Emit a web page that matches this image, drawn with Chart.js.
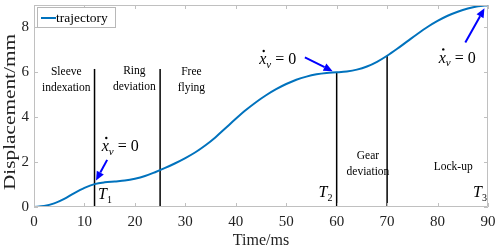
<!DOCTYPE html>
<html>
<head>
<meta charset="utf-8">
<script src="https://cdn.jsdelivr.net/npm/chart.js@4.4.1/dist/chart.umd.min.js"></script>
<style>
  html, body { margin: 0; padding: 0; background: #fff; }
  #wrap { width: 500px; height: 250px; }
</style>
</head>
<body>
<div id="wrap"><canvas id="myChart"></canvas></div>
<script>
const timeMs = [0, 2, 4, 6, 8, 10, 12, 14, 16, 18, 20, 22, 24, 26, 28, 30, 32, 34, 36, 38, 40, 42, 44, 46,
  48, 50, 52, 54, 56, 58, 60, 62, 64, 66, 68, 70, 72, 74, 76, 78, 80, 82, 84, 86, 88, 90];
const displacement = [0, 0.04, 0.16, 0.36, 0.62, 0.85, 1.02, 1.1, 1.14, 1.18, 1.26, 1.38, 1.55, 1.74, 1.95,
  2.18, 2.44, 2.75, 3.11, 3.52, 3.93, 4.32, 4.67, 4.98, 5.25, 5.48, 5.67, 5.81, 5.91, 5.97, 6.0, 6.04,
  6.12, 6.26, 6.47, 6.74, 7.05, 7.38, 7.71, 8.02, 8.29, 8.52, 8.7, 8.84, 8.94, 8.99];

// phase boundaries: time and height of the vertical line
const boundaryTimes = [12, 25, 60, 70];
const boundaryTops = [6.15, 6.15, 6.0, 6.74];

const xTicks = [0, 10, 20, 30, 40, 50, 60, 70, 80, 90];
const yTicks = [0, 2, 4, 6, 8];

const phaseLabels = [
  { lines: ['Sleeve', 'indexation'], x: 6.4, y: 5.66 },
  { lines: ['Ring', 'deviation'], x: 19.9, y: 5.72 },
  { lines: ['Free', 'flying'], x: 31.2, y: 5.66 },
  { lines: ['Gear', 'deviation'], x: 66.2, y: 1.92 },
  { lines: ['Lock-up'], x: 83.1, y: 1.78 }
];
const tLabels = [{ sub: '1', x: 13.9, y: 0.53 }, { sub: '2', x: 57.6, y: 0.62 }, { sub: '3', x: 88.2, y: 0.62 }];
const velocityNotes = [
  { tx: 17.1, ty: 2.67, from: [14.5, 2.1], to: [12.3, 1.18] },
  { tx: 48.3, ty: 6.55, from: [53.7, 6.67], to: [59.2, 6.05] },
  { tx: 83.9, ty: 6.62, from: [85.5, 7.33], to: [89.3, 8.85] }
];

const serif = '"Liberation Serif", "Times New Roman", serif';

const datasets = [{
  label: 'trajectory',
  data: timeMs.map((t, i) => ({ x: t, y: displacement[i] })),
  borderColor: '#0072BD',
  borderWidth: 2,
  pointRadius: 0,
  showLine: true,
  cubicInterpolationMode: 'monotone'
}];
boundaryTimes.forEach((t, i) => {
  datasets.push({
    label: 'b' + i,
    data: [{ x: t, y: 0 }, { x: t, y: boundaryTops[i] }],
    borderColor: '#000',
    borderWidth: 1.5,
    pointRadius: 0,
    showLine: true
  });
});

function arrow(ctx, x1, y1, x2, y2) {
  const a = Math.atan2(y2 - y1, x2 - x1);
  const hl = 9, hw = 4;
  const bx = x2 - hl * Math.cos(a), by = y2 - hl * Math.sin(a);
  ctx.strokeStyle = '#0000FF';
  ctx.fillStyle = '#0000FF';
  ctx.lineWidth = 2;
  ctx.beginPath();
  ctx.moveTo(x1, y1);
  ctx.lineTo(bx, by);
  ctx.stroke();
  ctx.beginPath();
  ctx.moveTo(x2, y2);
  ctx.lineTo(bx + hw * Math.sin(a), by - hw * Math.cos(a));
  ctx.lineTo(bx - hw * Math.sin(a), by + hw * Math.cos(a));
  ctx.closePath();
  ctx.fill();
}

// x-dot sub v = 0, centred on (cx, cy)
function velText(ctx, cx, cy) {
  ctx.fillStyle = '#000';
  ctx.textBaseline = 'middle';
  ctx.textAlign = 'left';
  ctx.font = 'italic 16px ' + serif;
  const wx = ctx.measureText('x').width;
  ctx.font = 'italic 11px ' + serif;
  const wv = ctx.measureText('v').width;
  ctx.font = '16px ' + serif;
  const rest = ' = 0';
  const wr = ctx.measureText(rest).width;
  let x = cx - (wx + wv + wr) / 2;
  ctx.font = 'italic 16px ' + serif;
  ctx.fillText('x', x, cy);
  ctx.beginPath();
  ctx.arc(x + wx / 2 + 1, cy - 9, 1.2, 0, Math.PI * 2);
  ctx.fill();
  x += wx;
  ctx.font = 'italic 11px ' + serif;
  ctx.fillText('v', x, cy + 5);
  x += wv;
  ctx.font = '16px ' + serif;
  ctx.fillText(rest, x, cy);
}

const decor = {
  id: 'decor',
  afterDatasetsDraw(chart) {
    const ctx = chart.ctx;
    const xs = chart.scales.x, ys = chart.scales.y;
    const a = chart.chartArea;
    ctx.save();
    // box with inward ticks
    ctx.strokeStyle = '#c0c0c0';
    ctx.lineWidth = 1;
    ctx.beginPath();
    ctx.rect(a.left + 0.5, a.top + 0.5, a.right - a.left - 1, a.bottom - a.top - 1);
    xTicks.forEach(v => {
      const p = Math.round(xs.getPixelForValue(v)) + 0.5;
      ctx.moveTo(p, a.bottom); ctx.lineTo(p, a.bottom - 4);
      ctx.moveTo(p, a.top); ctx.lineTo(p, a.top + 4);
    });
    yTicks.forEach(v => {
      const p = Math.round(ys.getPixelForValue(v)) + 0.5;
      ctx.moveTo(a.left, p); ctx.lineTo(a.left + 4, p);
      ctx.moveTo(a.right, p); ctx.lineTo(a.right - 4, p);
    });
    ctx.stroke();

    // y title, stretched along its length like the original export
    ctx.save();
    ctx.translate(11, (a.top + a.bottom) / 2 + 6);
    ctx.rotate(-Math.PI / 2);
    ctx.scale(1.33, 1);
    ctx.fillStyle = '#222';
    ctx.font = '16px ' + serif;
    ctx.textAlign = 'center';
    ctx.textBaseline = 'middle';
    ctx.fillText('Displacement/mm', 0, 0);
    ctx.restore();

    // legend box
    const lx = a.left + 3, ly = a.top + 2;
    ctx.fillStyle = '#fff';
    ctx.fillRect(lx, ly, 78, 20);
    ctx.strokeStyle = '#b8b8b8';
    ctx.strokeRect(lx + 0.5, ly + 0.5, 78, 20);
    ctx.strokeStyle = '#0072BD';
    ctx.lineWidth = 2;
    ctx.beginPath();
    ctx.moveTo(lx + 4, ly + 11);
    ctx.lineTo(lx + 19, ly + 11);
    ctx.stroke();
    ctx.fillStyle = '#000';
    ctx.font = '13.5px ' + serif;
    ctx.textAlign = 'left';
    ctx.textBaseline = 'middle';
    ctx.fillText('trajectory', lx + 19, ly + 11);

    ctx.font = '11.5px ' + serif;
    ctx.textAlign = 'center';
    phaseLabels.forEach(l => {
      const px = xs.getPixelForValue(l.x);
      const py = ys.getPixelForValue(l.y);
      const n = l.lines.length;
      l.lines.forEach((s, i) => ctx.fillText(s, px, py + (i - (n - 1) / 2) * 16));
    });

    tLabels.forEach(t => {
      const px = xs.getPixelForValue(t.x), py = ys.getPixelForValue(t.y);
      ctx.textAlign = 'left';
      ctx.font = 'italic 16px ' + serif;
      ctx.fillText('T', px - 6, py);
      ctx.font = '10px ' + serif;
      ctx.fillText(t.sub, px + 3, py + 5);
    });

    velocityNotes.forEach(n => {
      arrow(ctx, xs.getPixelForValue(n.from[0]), ys.getPixelForValue(n.from[1]),
        xs.getPixelForValue(n.to[0]), ys.getPixelForValue(n.to[1]));
      velText(ctx, xs.getPixelForValue(n.tx), ys.getPixelForValue(n.ty));
    });
    ctx.restore();
  }
};

new Chart(document.getElementById('myChart'), {
  type: 'scatter',
  data: { datasets },
  plugins: [decor],
  options: {
    responsive: true,
    maintainAspectRatio: false,
    animation: false,
    layout: { padding: { top: 5, right: 12, left: 0, bottom: 0 } },
    plugins: {
      tooltip: { enabled: false },
      legend: { display: false }
    },
    scales: {
      x: {
        type: 'linear',
        min: 0, max: 90,
        afterFit: s => { s.height = 43; s.paddingLeft = 0; s.paddingRight = 0; },
        afterBuildTicks: s => { s.ticks = xTicks.map(v => ({ value: v })); },
        grid: { display: false, drawTicks: false },
        border: { display: false },
        ticks: { color: '#222', padding: 6, font: { family: serif, size: 15 } },
        title: { display: true, text: 'Time/ms', color: '#222', padding: 0, font: { family: serif, size: 16 } }
      },
      y: {
        type: 'linear',
        min: 0, max: 9,
        afterFit: s => { s.width = 34; s.paddingTop = 0; s.paddingBottom = 0; },
        afterBuildTicks: s => { s.ticks = yTicks.map(v => ({ value: v })); },
        grid: { display: false, drawTicks: false },
        border: { display: false },
        ticks: { color: '#222', padding: 5, font: { family: serif, size: 15 } },
        title: { display: false }
      }
    }
  }
});
</script>
</body>
</html>
